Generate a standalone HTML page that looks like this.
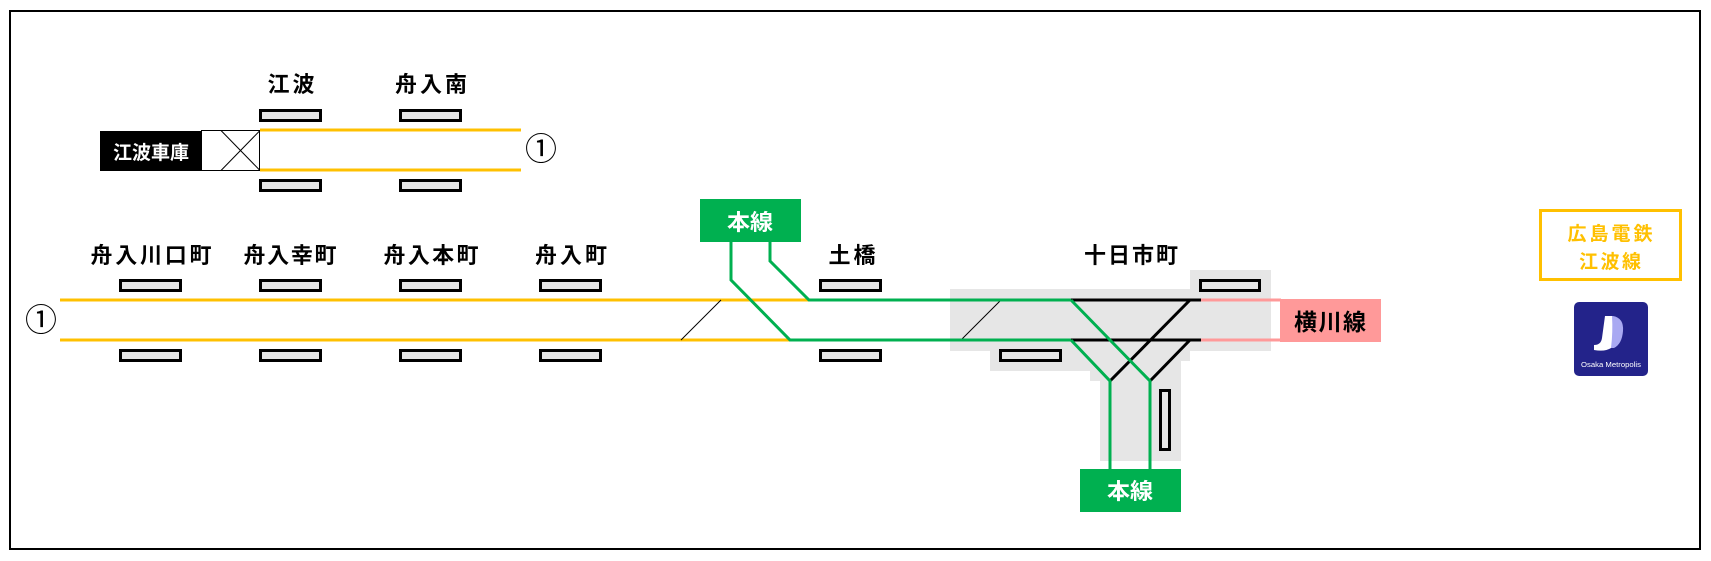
<!DOCTYPE html>
<html>
<head>
<meta charset="utf-8">
<style>
html,body{margin:0;padding:0;background:#fff;}
body{width:1711px;height:561px;overflow:hidden;}
svg{display:block;}
text{font-family:"Liberation Sans","Noto Sans CJK JP",sans-serif;font-weight:bold;}
</style>
</head>
<body>
<svg width="1711" height="561" viewBox="0 0 1711 561" xmlns="http://www.w3.org/2000/svg">
  <rect x="0" y="0" width="1711" height="561" fill="#fff"/>
  <!-- outer border -->
  <rect x="10" y="11" width="1690" height="538" fill="none" stroke="#000" stroke-width="2"/>

  <!-- ===== Top branch (Eba depot) ===== -->
  <rect x="100" y="131" width="101" height="40" fill="#000"/>
  <text x="151" y="159" fill="#fff" font-size="19" text-anchor="middle" textLength="76" lengthAdjust="spacingAndGlyphs">江波車庫</text>
  <rect x="201.5" y="130.5" width="58" height="40" fill="#fff" stroke="#000" stroke-width="1"/>
  <line x1="221" y1="130.5" x2="260" y2="170.5" stroke="#000" stroke-width="1"/>
  <line x1="221" y1="170.5" x2="260" y2="130.5" stroke="#000" stroke-width="1"/>
  <line x1="260" y1="130" x2="521" y2="130" stroke="#ffc000" stroke-width="3"/>
  <line x1="260" y1="170" x2="521" y2="170" stroke="#ffc000" stroke-width="3"/>
  <text x="541" y="160" font-size="32" text-anchor="middle" fill="#000" style="font-weight:normal">①</text>

  <text x="291" y="92" font-size="22" text-anchor="middle" textLength="47" lengthAdjust="spacing">江波</text>
  <text x="431" y="92" font-size="22" text-anchor="middle" textLength="72" lengthAdjust="spacing">舟入南</text>

  <g fill="#e6e6e6" stroke="#000" stroke-width="3">
    <rect x="260.5" y="110.5" width="60" height="10"/>
    <rect x="400.5" y="110.5" width="60" height="10"/>
    <rect x="260.5" y="180.5" width="60" height="10"/>
    <rect x="400.5" y="180.5" width="60" height="10"/>
  </g>

  <!-- ===== Gray station area (Tokaichimachi) ===== -->
  <g fill="#e6e6e6">
    <rect x="950" y="289" width="240" height="62"/>
    <rect x="1190" y="270" width="81" height="81"/>
    <rect x="990" y="351" width="200" height="10"/>
    <rect x="990" y="361" width="191" height="10"/>
    <rect x="1090" y="371" width="91" height="10"/>
    <rect x="1100" y="381" width="81" height="80"/>
  </g>

  <!-- ===== Main line ===== -->
  <text x="41" y="331" font-size="32" text-anchor="middle" fill="#000" style="font-weight:normal">①</text>
  <line x1="60" y1="300" x2="811" y2="300" stroke="#ffc000" stroke-width="3"/>
  <line x1="60" y1="340" x2="790" y2="340" stroke="#ffc000" stroke-width="3"/>

  <!-- thin crossovers -->
  <line x1="681" y1="340" x2="721" y2="300" stroke="#000" stroke-width="1"/>
  <line x1="961" y1="340" x2="1001" y2="300" stroke="#000" stroke-width="1"/>

  <!-- station labels -->
  <text x="151" y="263" font-size="22" text-anchor="middle" textLength="121" lengthAdjust="spacing">舟入川口町</text>
  <text x="290" y="263" font-size="22" text-anchor="middle" textLength="93" lengthAdjust="spacing">舟入幸町</text>
  <text x="431" y="263" font-size="22" text-anchor="middle" textLength="95" lengthAdjust="spacing">舟入本町</text>
  <text x="571" y="263" font-size="22" text-anchor="middle" textLength="72" lengthAdjust="spacing">舟入町</text>
  <text x="852" y="263" font-size="22" text-anchor="middle" textLength="47" lengthAdjust="spacing">土橋</text>
  <text x="1131" y="263" font-size="22" text-anchor="middle" textLength="94" lengthAdjust="spacing">十日市町</text>

  <!-- platforms -->
  <g fill="#e6e6e6" stroke="#000" stroke-width="3">
    <rect x="120.5" y="280.5" width="60" height="10"/>
    <rect x="260.5" y="280.5" width="60" height="10"/>
    <rect x="400.5" y="280.5" width="60" height="10"/>
    <rect x="540.5" y="280.5" width="60" height="10"/>
    <rect x="120.5" y="350.5" width="60" height="10"/>
    <rect x="260.5" y="350.5" width="60" height="10"/>
    <rect x="400.5" y="350.5" width="60" height="10"/>
    <rect x="540.5" y="350.5" width="60" height="10"/>
    <rect x="820.5" y="280.5" width="60" height="10"/>
    <rect x="820.5" y="350.5" width="60" height="10"/>
    <rect x="1000.5" y="350.5" width="60" height="10"/>
    <rect x="1200.5" y="280.5" width="59" height="10"/>
    <rect x="1160.5" y="390.5" width="9" height="59"/>
  </g>

  <!-- green Honsen (top) -->
  <rect x="700" y="199" width="101" height="43" fill="#00b050"/>
  <text x="750" y="230" font-size="22" fill="#fff" text-anchor="middle" textLength="46" lengthAdjust="spacingAndGlyphs">本線</text>
  <polyline points="731,242 731,280 790,340 1071,340" fill="none" stroke="#00b050" stroke-width="3"/>
  <polyline points="770,242 770,261 809,300 1071,300" fill="none" stroke="#00b050" stroke-width="3"/>

  <!-- black tracks at Tokaichimachi -->
  <line x1="1071" y1="300" x2="1201" y2="300" stroke="#000" stroke-width="3"/>
  <line x1="1071" y1="340" x2="1201" y2="340" stroke="#000" stroke-width="3"/>
  <polyline points="1190,300 1110,381" fill="none" stroke="#000" stroke-width="3"/>
  <polyline points="1190,340 1150,381" fill="none" stroke="#000" stroke-width="3"/>

  <!-- green junction -->
  <polyline points="1071,300 1150,381 1150,469" fill="none" stroke="#00b050" stroke-width="3"/>
  <polyline points="1071,340 1110,381 1110,469" fill="none" stroke="#00b050" stroke-width="3"/>

  <!-- pink Yokogawa -->
  <line x1="1201" y1="300" x2="1281" y2="300" stroke="#ff9999" stroke-width="3"/>
  <line x1="1201" y1="340" x2="1281" y2="340" stroke="#ff9999" stroke-width="3"/>
  <rect x="1280" y="299" width="101" height="43" fill="#ff9999"/>
  <text x="1330" y="330" font-size="23" fill="#000" text-anchor="middle" textLength="72" lengthAdjust="spacing">横川線</text>

  <!-- green Honsen (bottom) -->
  <rect x="1080" y="469" width="101" height="43" fill="#00b050"/>
  <text x="1130" y="499" font-size="22" fill="#fff" text-anchor="middle" textLength="46" lengthAdjust="spacingAndGlyphs">本線</text>

  <!-- legend -->
  <rect x="1540.5" y="210.5" width="140" height="69" fill="none" stroke="#ffc000" stroke-width="3"/>
  <text x="1610" y="240" font-size="19" fill="#ffc000" text-anchor="middle" textLength="85" lengthAdjust="spacing">広島電鉄</text>
  <text x="1610" y="268" font-size="19" fill="#ffc000" text-anchor="middle" textLength="62" lengthAdjust="spacing">江波線</text>

  <!-- logo -->
  <rect x="1574" y="302" width="74" height="74" rx="5" ry="5" fill="#23238a"/>
  <path d="M1613,316 Q1624,318 1623,331 Q1622,344 1614,348 L1610,348 Q1612,332 1611,316 Z" fill="#a9a9f2"/>
  <path d="M1605,316 L1612,316 Q1613,332 1611,348 Q1605,352 1594,350 L1594,345 Q1601,345 1602,338 Z" fill="#ffffff"/>
  <text x="1611" y="367" font-size="7" fill="#fff" text-anchor="middle" textLength="60" lengthAdjust="spacingAndGlyphs" style="font-family:'Liberation Sans',sans-serif;font-weight:normal">Osaka Metropolis</text>
</svg>
</body>
</html>
